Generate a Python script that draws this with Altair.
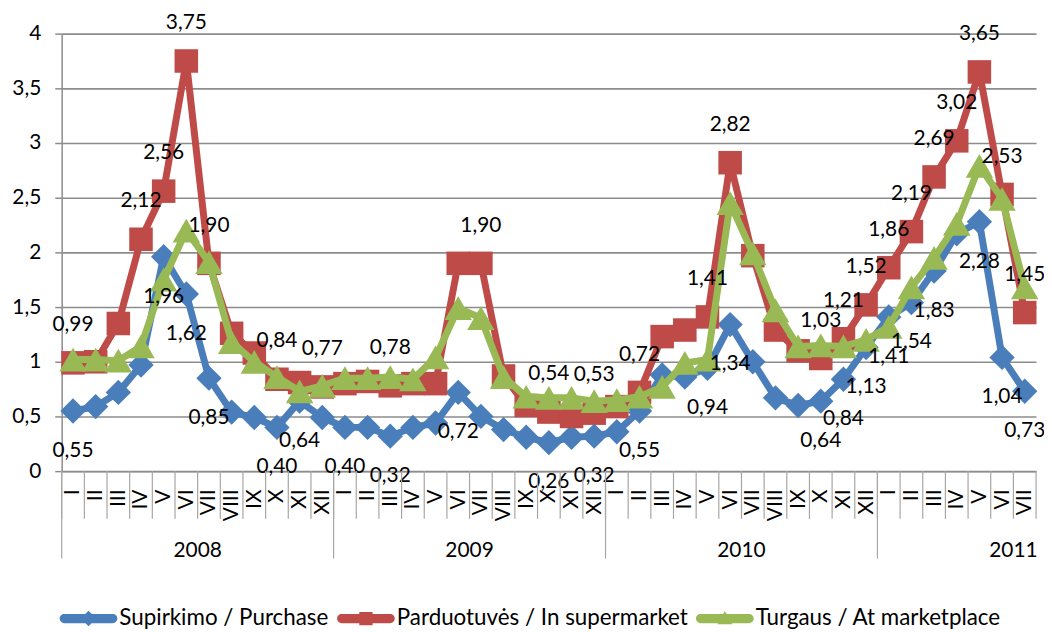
import altair as alt
import pandas as pd

# ---- data -------------------------------------------------------------
years = [2008, 2009, 2010, 2011]
roman = ["I", "II", "III", "IV", "V", "VI", "VII", "VIII", "IX", "X", "XI", "XII"]
n_months = 43

series_names = ["Supirkimo / Purchase", "Parduotuvės / In supermarket", "Turgaus / At marketplace"]

purchase = [
    0.55, 0.59, 0.72, 0.97, 1.96, 1.62, 0.85, 0.54, 0.49, 0.40, 0.64, 0.49,
    0.40, 0.40, 0.32, 0.40, 0.44, 0.72, 0.50, 0.38, 0.31, 0.26, 0.31, 0.32,
    0.36, 0.55, 0.88, 0.86, 0.94, 1.34, 1.00, 0.67, 0.60, 0.64, 0.84, 1.13,
    1.41, 1.54, 1.83, 2.17, 2.28, 1.04, 0.73,
]
supermarket = [
    0.99, 1.00, 1.35, 2.12, 2.56, 3.75, 1.90, 1.26, 1.08, 0.84, 0.81, 0.77,
    0.80, 0.82, 0.78, 0.80, 0.80, 1.90, 1.90, 0.87, 0.60, 0.54, 0.50, 0.53,
    0.59, 0.72, 1.23, 1.29, 1.41, 2.82, 1.97, 1.29, 1.10, 1.03, 1.21, 1.52,
    1.86, 2.19, 2.69, 3.02, 3.65, 2.53, 1.45,
]
marketplace = [
    1.02, 1.02, 1.01, 1.14, 1.75, 2.20, 1.91, 1.18, 1.00, 0.86, 0.73, 0.78,
    0.85, 0.85, 0.86, 0.84, 1.04, 1.49, 1.40, 0.86, 0.68, 0.67, 0.67, 0.64,
    0.65, 0.68, 0.77, 0.99, 1.02, 2.45, 1.99, 1.47, 1.14, 1.15, 1.14, 1.20,
    1.32, 1.68, 1.95, 2.26, 2.79, 2.49, 1.68,
]

# indices of points that carry a value label
purchase_labeled = [0, 4, 5, 6, 9, 10, 12, 14, 17, 21, 23, 25, 28, 29, 33, 34, 35,
                    36, 37, 38, 40, 41, 42]
supermarket_labeled = [0, 3, 4, 5, 6, 9, 11, 14, 18, 21, 23, 25, 28, 29, 33, 34, 35,
                       36, 37, 38, 39, 40, 41, 42]
marketplace_labeled = []

colors = ["#4A7EBB", "#BE4B48", "#98B954"]
shapes = ["diamond", "square", "triangle-up"]
marker_sizes = [650, 560, 760]

# ---- tables -----------------------------------------------------------
rows = []
for name, vals, lab in zip(series_names, [purchase, supermarket, marketplace],
                           [purchase_labeled, supermarket_labeled, marketplace_labeled]):
    for i, v in enumerate(vals):
        rows.append({"series": name, "idx": i, "x": i + 0.5, "value": v, "lab": i in lab})
df = pd.DataFrame(rows)

ticks_df = pd.DataFrame({"x": [float(b) for b in range(n_months + 1)]})
year_bounds = pd.DataFrame({"x": [float(12 * k) for k in range(len(years))]})
year_df = pd.DataFrame({"year": [str(y) for y in years],
                        "x": [12.0 * k + 6 for k in range(len(years))]})

FONT = "Lato"
GRID = "#8c8c8c"
roman_js = "[" + ",".join("'%s'" % r for r in roman) + "]"

x_axis = alt.Axis(
    values=[i + 0.5 for i in range(n_months)],
    labelExpr=roman_js + "[floor(datum.value) % 12]",
    labelAngle=270, labelFont=FONT, labelFontSize=21, labelColor="#000000",
    labelPadding=18, labelFlush=False, labelOverlap=False, labelBound=False,
    ticks=False, grid=False, domainColor=GRID, domainWidth=1.5, title=None,
)
x_scale = alt.Scale(domain=[0, n_months], nice=False, zero=False)
x_enc = alt.X("x:Q", scale=x_scale, axis=x_axis)

y_enc = alt.Y(
    "value:Q",
    scale=alt.Scale(domain=[0, 4], nice=False, zero=True),
    axis=alt.Axis(
        values=[0, 0.5, 1, 1.5, 2, 2.5, 3, 3.5, 4],
        labelExpr="replace(format(datum.value, ''), '.', ',')",
        labelFont=FONT, labelFontSize=21, labelColor="#000000", labelPadding=14,
        grid=True, gridColor=GRID, gridWidth=1.6,
        domainColor=GRID, domainWidth=1.5, tickColor=GRID, tickSize=7, tickWidth=1.5,
        title=None,
    ),
)

layers = []

for name, col, shp, sz in zip(series_names, colors, shapes, marker_sizes):
    base = alt.Chart(df).transform_filter(alt.datum.series == name)
    layers.append(base.mark_line(color=col, strokeWidth=7, strokeJoin="round").encode(x=x_enc, y=y_enc))
    layers.append(base.mark_point(shape=shp, filled=True, size=sz, color=col, opacity=1,
                                  strokeWidth=0).encode(x=x_enc, y=y_enc))

# value labels
label_offsets = [40, -38, -38]
for name, dy in zip(series_names, label_offsets):
    layers.append(
        alt.Chart(df).transform_filter((alt.datum.series == name) & alt.datum.lab)
        .transform_calculate(txt="replace(format(datum.value, '.2f'), '.', ',')")
        .mark_text(font=FONT, fontSize=21, color="#000000", dy=dy, baseline="middle")
        .encode(x=x_enc, y=y_enc, text="txt:N")
    )

# month separator ticks and year separators below the axis
layers.append(
    alt.Chart(ticks_df).mark_rule(color="#a6a6a6", strokeWidth=1.2).encode(
        x=x_enc, y=alt.value(440), y2=alt.value(488),
    )
)
layers.append(
    alt.Chart(year_bounds).mark_rule(color="#a6a6a6", strokeWidth=1.2).encode(
        x=x_enc, y=alt.value(440), y2=alt.value(528),
    )
)
layers.append(
    alt.Chart(year_df).mark_text(font=FONT, fontSize=21, color="#000000", baseline="middle").encode(
        x=x_enc, y=alt.value(520), text="year:N",
    )
)

# legend (line + marker symbols) from an empty layer
bar = "M-0.84,-0.16L0.84,-0.16A0.16,0.16 0 0 1 0.84,0.16L-0.84,0.16A0.16,0.16 0 0 1 -0.84,-0.16Z"
legend_paths = [
    bar + "M0,-0.27L0.27,0L0,0.27L-0.27,0Z",
    bar + "M-0.23,-0.23L0.23,-0.23L0.23,0.23L-0.23,0.23Z",
    bar + "M0,-0.26L0.26,0.2L-0.26,0.2Z",
]
leg = alt.Legend(title=None, orient="none", legendX=-2, legendY=559,
                 direction="horizontal", labelFont=FONT, labelFontSize=22.5,
                 labelColor="#000000", symbolSize=3364, labelOffset=2, labelLimit=0,
                 columnPadding=8, padding=0, symbolStrokeWidth=0)
legend_layer = alt.Chart(df).transform_filter("false").mark_point(
    filled=True, opacity=1, size=3364, strokeWidth=0
).encode(
    x=x_enc, y=y_enc,
    color=alt.Color("series:N", scale=alt.Scale(domain=series_names, range=colors), legend=leg),
    shape=alt.Shape("series:N", scale=alt.Scale(domain=series_names, range=legend_paths), legend=leg),
)
layers.append(legend_layer)

chart = alt.layer(*layers).properties(
    width=980, height=440,
    autosize=alt.AutoSizeParams(type="none"),
    padding={"left": 54, "top": 24, "right": 8, "bottom": 160},
    background="white",
).configure_view(stroke=None)

chart.save("out.html", embed_options={"renderer": "svg", "actions": False})
